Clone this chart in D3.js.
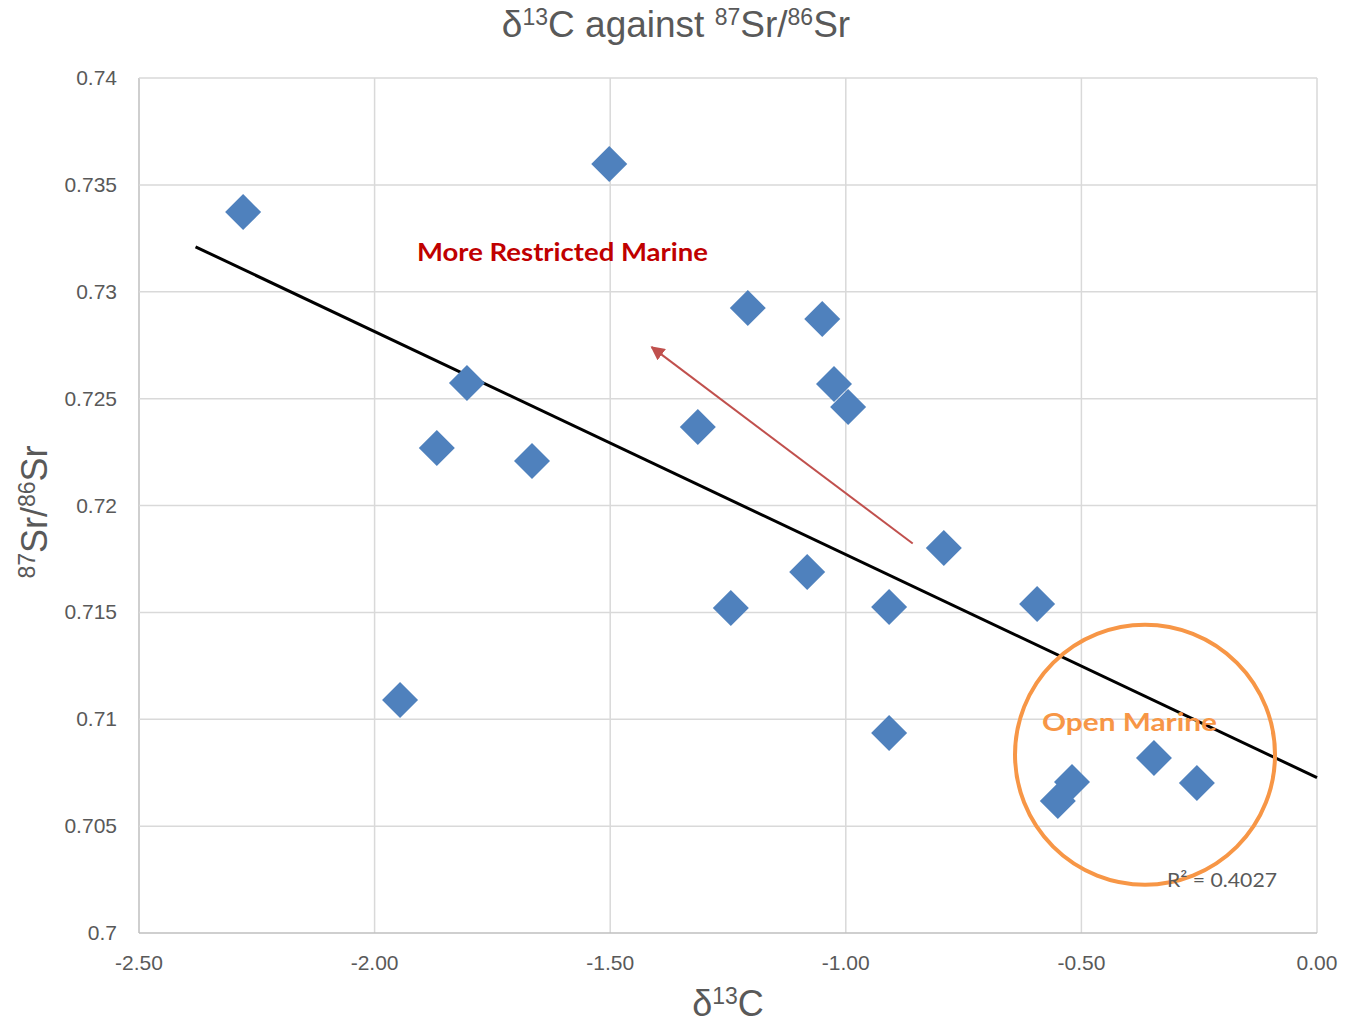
<!DOCTYPE html>
<html>
<head>
<meta charset="utf-8">
<script src="https://cdn.jsdelivr.net/npm/d3@7"></script>
<style>
  body { margin: 0; background: #fff; }
</style>
</head>
<body>
<svg id="chart" width="1348" height="1023" font-family="'Liberation Sans', Arial, sans-serif"></svg>
<script>
// d13C vs 87Sr/86Sr samples
const d13C = [-2.279, -1.502, -1.208, -1.050, -1.025, -0.995, -1.804, -1.868, -1.666, -1.314,
              -0.792, -1.082, -1.244, -0.908, -0.594, -1.946, -0.908, -0.346, -0.255, -0.520, -0.550];
const srRatio = [0.73373, 0.73598, 0.72924, 0.72872, 0.72568, 0.72461, 0.72573, 0.72269, 0.72208, 0.72367,
                 0.71801, 0.71689, 0.71520, 0.71525, 0.71539, 0.7109, 0.70936, 0.70819, 0.70702, 0.70706, 0.70618];
const xTicks = [-2.5, -2.0, -1.5, -1.0, -0.5, 0.0];
const yTicks = [0.70, 0.705, 0.71, 0.715, 0.72, 0.725, 0.73, 0.735, 0.74];
const trendRange = [-2.38, 0.0];
const r2Label = "R² = 0.4027";

const svg = d3.select("#chart");
const x = d3.scaleLinear().domain([-2.5, 0]).range([139, 1317]);
const y = d3.scaleLinear().domain([0.70, 0.74]).range([933, 78]);
const calibri = "Lato, 'Open Sans', sans-serif";

// gridlines
svg.append("g").selectAll("line").data(xTicks).join("line")
  .attr("x1", d => x(d)).attr("x2", d => x(d))
  .attr("y1", y(0.74)).attr("y2", y(0.70))
  .attr("stroke", d => d === -2.5 ? "#bfbfbf" : "#d9d9d9").attr("stroke-width", 1.5);
svg.append("g").selectAll("line").data(yTicks).join("line")
  .attr("x1", x(-2.5)).attr("x2", x(0))
  .attr("y1", d => y(d)).attr("y2", d => y(d))
  .attr("stroke", d => d === 0.70 ? "#bfbfbf" : "#d9d9d9").attr("stroke-width", 1.5);

// tick labels
svg.append("g").selectAll("text").data(yTicks).join("text")
  .attr("x", 117).attr("y", d => y(d) + 7)
  .attr("text-anchor", "end").attr("font-size", 21).attr("fill", "#595959")
  .text(d => d3.format("~g")(d));
svg.append("g").selectAll("text").data(xTicks).join("text")
  .attr("x", d => x(d)).attr("y", 970)
  .attr("text-anchor", "middle").attr("font-size", 21).attr("fill", "#595959")
  .text(d => d3.format(".2f")(d).replace("−", "-"));

// linear trendline (least squares)
const mx = d3.mean(d13C), my = d3.mean(srRatio);
const slope = d3.sum(d13C, (v, i) => (v - mx) * (srRatio[i] - my)) / d3.sum(d13C, v => (v - mx) ** 2);
const icept = my - slope * mx;
svg.append("line")
  .attr("x1", x(trendRange[0])).attr("y1", y(icept + slope * trendRange[0]))
  .attr("x2", x(trendRange[1])).attr("y2", y(icept + slope * trendRange[1]))
  .attr("stroke", "#000").attr("stroke-width", 3);

// markers
const pts = d13C.map((v, i) => [v, srRatio[i]]);
const diamond = "M0,-18L18,0L0,18L-18,0Z";
svg.append("g").selectAll("path").data(pts).join("path")
  .attr("d", diamond)
  .attr("transform", d => `translate(${x(d[0])},${y(d[1])})`)
  .attr("fill", "#4f81bd");

// annotations
svg.append("defs").append("marker")
  .attr("id", "arrowhead").attr("viewBox", "0 0 10 10")
  .attr("refX", 9).attr("refY", 5)
  .attr("markerWidth", 7).attr("markerHeight", 7)
  .attr("markerUnits", "strokeWidth").attr("orient", "auto")
  .append("path").attr("d", "M0,0L10,5L0,10Z").attr("fill", "#c0504d");
svg.append("line")
  .attr("x1", x(-0.858)).attr("y1", y(0.71822))
  .attr("x2", x(-1.412)).attr("y2", y(0.72741))
  .attr("stroke", "#c0504d").attr("stroke-width", 2)
  .attr("marker-end", "url(#arrowhead)");

svg.append("circle")
  .attr("cx", x(-0.365)).attr("cy", y(0.70834)).attr("r", 130)
  .attr("fill", "none").attr("stroke", "#f79646").attr("stroke-width", 4);

svg.append("text")
  .attr("x", 417).attr("y", 261)
  .attr("font-family", calibri).attr("font-weight", "bold")
  .attr("font-size", 25).attr("fill", "#c00000")
  .attr("textLength", 291).attr("lengthAdjust", "spacingAndGlyphs")
  .text("More Restricted Marine");
svg.append("text")
  .attr("x", 1042).attr("y", 731)
  .attr("font-family", calibri).attr("font-weight", "bold")
  .attr("font-size", 25).attr("fill", "#f79646")
  .attr("textLength", 175).attr("lengthAdjust", "spacingAndGlyphs")
  .text("Open Marine");
svg.append("text")
  .attr("x", 1167).attr("y", 887)
  .attr("font-family", calibri)
  .attr("font-size", 20).attr("fill", "#595959")
  .attr("textLength", 110).attr("lengthAdjust", "spacingAndGlyphs")
  .text(r2Label);

// titles (superscripts as raised tspans)
const title = svg.append("text")
  .attr("x", 676).attr("y", 37).attr("text-anchor", "middle")
  .attr("font-size", 37).attr("fill", "#595959");
title.append("tspan").text("δ");
title.append("tspan").attr("font-size", 23).attr("dy", -12).text("13");
title.append("tspan").attr("dy", 12).text("C against ");
title.append("tspan").attr("font-size", 23).attr("dy", -12).text("87");
title.append("tspan").attr("dy", 12).text("Sr/");
title.append("tspan").attr("font-size", 23).attr("dy", -12).text("86");
title.append("tspan").attr("dy", 12).text("Sr");

const xLabel = svg.append("text")
  .attr("x", 728).attr("y", 1016).attr("text-anchor", "middle")
  .attr("font-size", 36).attr("fill", "#595959");
xLabel.append("tspan").text("δ");
xLabel.append("tspan").attr("font-size", 23).attr("dy", -12).text("13");
xLabel.append("tspan").attr("dy", 12).text("C");

const yLabel = svg.append("text")
  .attr("transform", "translate(47,512) rotate(-90)").attr("text-anchor", "middle")
  .attr("font-size", 36).attr("fill", "#595959");
yLabel.append("tspan").attr("font-size", 23).attr("dy", -12).text("87");
yLabel.append("tspan").attr("dy", 12).text("Sr/");
yLabel.append("tspan").attr("font-size", 23).attr("dy", -12).text("86");
yLabel.append("tspan").attr("dy", 12).text("Sr");
</script>
</body>
</html>
